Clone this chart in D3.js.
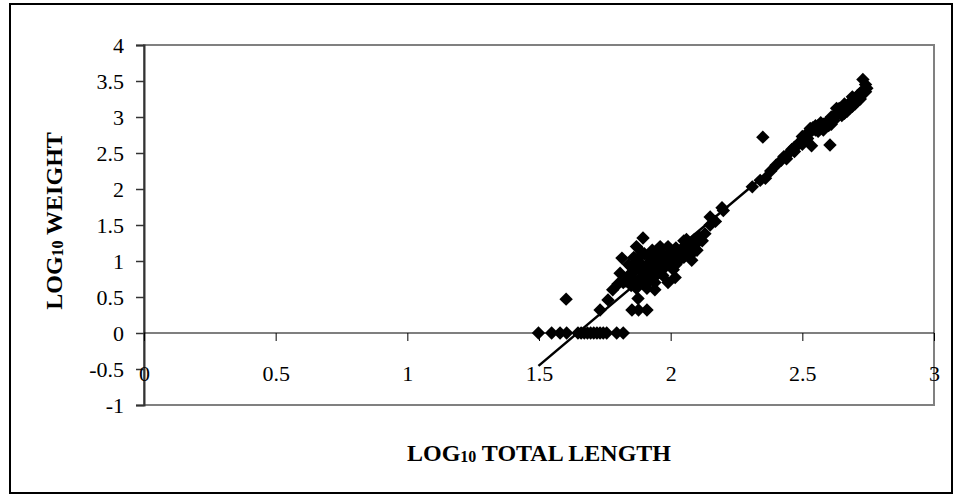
<!DOCTYPE html>
<html><head><meta charset="utf-8">
<script src="https://cdn.jsdelivr.net/npm/d3@7"></script>
<style>body{margin:0;background:#fff}svg{display:block}</style>
</head><body><svg id="c" width="962" height="496"></svg>
<script>
const xTickValues = [0, 0.5, 1, 1.5, 2, 2.5, 3];
const xTickLabels = ["0", "0.5", "1", "1.5", "2", "2.5", "3"];
const yTickValues = [-1, -0.5, 0, 0.5, 1, 1.5, 2, 2.5, 3, 3.5, 4];
const yTickLabels = ["-1", "-0.5", "0", "0.5", "1", "1.5", "2", "2.5", "3", "3.5", "4"];

const logLength = [
  // zero-weight row
  1.498,1.548,1.580,1.605,1.648,1.660,1.672,1.684,1.696,1.708,1.720,1.732,1.744,1.757,1.795,1.820,
  // scattered small fish
  1.603,1.732,1.762,1.780,1.800,1.808,1.815,1.853,1.878,1.910,1.876,1.895,1.870,1.940,2.017,2.080,1.990,
  // dense cloud
  1.83,1.84,1.85,1.85,1.86,1.86,1.87,1.87,1.88,1.88,
  1.88,1.89,1.89,1.90,1.90,1.90,1.91,1.91,1.92,1.92,
  1.92,1.93,1.93,1.94,1.94,1.95,1.95,1.96,1.96,1.97,
  1.97,1.98,1.98,1.99,2.00,2.00,2.01,2.02,2.03,2.03,
  2.04,2.05,2.05,2.06,2.07,2.08,2.09,2.10,2.11,1.97,
  2.01,1.95,1.99,2.05,1.82,1.84,1.86,1.89,1.93,1.96,
  2.02,2.06,2.08,2.12,2.10,1.91,1.94,
  // middle
  2.13,2.15,2.15,2.17,2.195,2.20,
  // large fish
  2.31,2.34,2.36,2.35,2.38,2.40,2.42,2.43,2.45,2.46,
  2.47,2.48,2.49,2.50,2.51,2.52,2.53,2.535,2.54,2.55,
  2.56,2.57,2.58,2.59,2.60,2.605,2.61,2.62,2.63,2.64,
  2.65,2.66,2.67,2.68,2.69,2.70,2.71,2.72,2.73,2.73,
  2.74,2.745,2.66,2.64,2.68,2.70,2.71,2.58,2.55,2.50,
  2.44,2.47,2.50,2.52,2.56,2.60,2.62,2.65,2.67,2.69,
  2.72,2.74,2.63,2.66,2.69,2.57,2.53,2.61
];
const logWeight = [
  0,0,0,0,0,0,0,0,0,0,0,0,0,0,0,0,
  0.47,0.32,0.46,0.60,0.68,0.83,1.04,0.32,0.32,0.32,0.48,1.32,1.20,0.60,0.77,1.01,0.70,
  0.72,0.80,0.66,0.92,0.75,0.85,0.62,0.98,0.70,0.88,
  1.05,0.78,0.95,0.68,0.85,1.10,0.80,0.95,0.72,0.90,
  1.05,0.85,1.00,0.78,0.95,0.90,1.08,0.85,1.00,0.95,
  1.10,0.92,1.05,1.00,0.95,1.12,1.05,1.18,1.00,1.12,
  1.08,1.20,1.28,1.15,1.25,1.20,1.30,1.25,1.33,0.80,
  0.88,1.15,1.20,1.05,0.70,0.95,1.05,1.12,1.15,1.20,
  0.95,1.30,1.10,1.28,1.15,0.62,0.70,
  1.38,1.50,1.61,1.55,1.74,1.70,
  2.03,2.12,2.15,2.72,2.25,2.33,2.40,2.45,2.50,2.55,
  2.58,2.60,2.65,2.68,2.72,2.78,2.80,2.60,2.85,2.82,
  2.88,2.85,2.90,2.92,2.95,2.61,2.90,3.00,3.05,3.08,
  3.10,3.12,3.15,3.20,3.22,3.25,3.30,3.33,3.37,3.52,
  3.45,3.40,3.05,3.12,3.12,3.18,3.22,2.82,2.88,2.73,
  2.42,2.52,2.62,2.70,2.80,2.88,2.95,3.02,3.08,3.15,
  3.25,3.35,3.12,3.18,3.28,2.92,2.84,3.00
];
const trendSlope = 3.08;
const trendIntercept = -5.07;

const svg = d3.select("#c");
const plot = {left: 144, right: 934, top: 45, bottom: 405};
const font = "'Liberation Serif','Times New Roman',serif";

// outer border
svg.append("rect").attr("x", 10).attr("y", 4).attr("width", 942).attr("height", 489)
  .attr("fill", "#fff").attr("stroke", "#000").attr("stroke-width", 2);

const x = d3.scaleLinear().domain([0, 3]).range([plot.left, plot.right]);
const y = d3.scaleLinear().domain([-1, 4]).range([plot.bottom, plot.top]);

// plot area border
svg.append("rect").attr("x", plot.left).attr("y", plot.top)
  .attr("width", plot.right - plot.left).attr("height", plot.bottom - plot.top)
  .attr("fill", "none").attr("stroke", "#808080").attr("stroke-width", 2);

// y axis
const yAxis = d3.axisLeft(y).tickValues(yTickValues).tickSize(8).tickPadding(12)
  .tickFormat((d, i) => yTickLabels[i]);
const gy = svg.append("g").attr("transform", `translate(${plot.left},0)`).call(yAxis);
gy.select(".domain").attr("stroke", "#333").attr("stroke-width", 2);
gy.selectAll(".tick line").attr("stroke", "#333").attr("stroke-width", 1.5);
gy.selectAll(".tick text").attr("font-family", font).attr("font-size", 22).attr("fill", "#000");

// x axis at y = 0
const xAxis = d3.axisBottom(x).tickValues(xTickValues).tickSize(8).tickPadding(24)
  .tickFormat((d, i) => xTickLabels[i]);
const gx = svg.append("g").attr("transform", `translate(0,${y(0)})`).call(xAxis);
gx.select(".domain").attr("stroke", "#000").attr("stroke-width", 1.2).attr("d", `M${plot.left},0H${plot.right}`);
gx.selectAll(".tick line").attr("stroke", "#000").attr("stroke-width", 1);
gx.selectAll(".tick text").attr("font-family", font).attr("font-size", 22).attr("fill", "#000");

// points
const pts = logLength.map((v, i) => [v, logWeight[i]]);
const sym = d3.symbol().type(d3.symbolSquare).size(90);
svg.append("g").selectAll("path").data(pts).join("path")
  .attr("d", sym)
  .attr("transform", d => `translate(${x(d[0])},${y(d[1])}) rotate(45)`)
  .attr("fill", "#000");

// trend line
const xMin = d3.min(logLength), xMax = d3.max(logLength);
svg.append("line")
  .attr("x1", x(xMin)).attr("y1", y(trendSlope * xMin + trendIntercept))
  .attr("x2", x(xMax)).attr("y2", y(trendSlope * xMax + trendIntercept))
  .attr("stroke", "#000").attr("stroke-width", 2.5);

// axis titles
const xt = svg.append("text").attr("x", (plot.left + plot.right) / 2).attr("y", 461)
  .attr("text-anchor", "middle").attr("font-family", font).attr("font-weight", "bold")
  .attr("font-size", 24).attr("fill", "#000");
xt.append("tspan").text("LOG");
xt.append("tspan").attr("font-size", 16).attr("dy", 1).text("10");
xt.append("tspan").attr("dy", -1).text(" TOTAL LENGTH");

const yt = svg.append("text").attr("transform", `translate(62,${(plot.top + plot.bottom) / 2 - 4}) rotate(-90)`)
  .attr("text-anchor", "middle").attr("font-family", font).attr("font-weight", "bold")
  .attr("font-size", 24).attr("fill", "#000");
yt.append("tspan").text("LOG");
yt.append("tspan").attr("font-size", 16).attr("dy", 1).text("10");
yt.append("tspan").attr("dy", -1).text(" WEIGHT");
</script>
</body></html>
